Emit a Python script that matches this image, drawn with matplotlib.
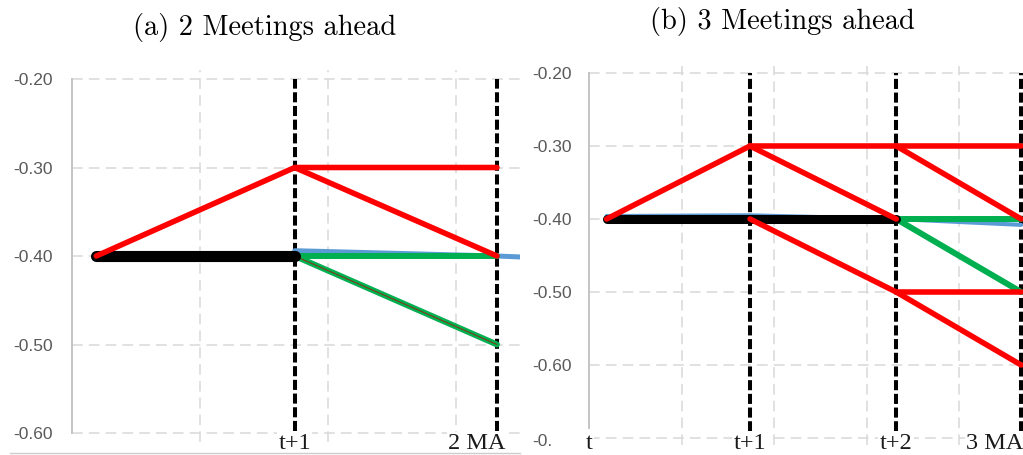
import numpy as np
import matplotlib
matplotlib.use('Agg')
import matplotlib.pyplot as plt
from matplotlib.lines import Line2D
from matplotlib.transforms import offset_copy

# horizontal position of each meeting (t, t+1, t+2, t+3) in gridline units
xMeeting = [0.19, 1.74, 3.32, 4.67]

# panel (a): 2 meetings ahead
judulA = '(a) 2 Meetings ahead'
labelA = ['t+1', '2 MA']
labelIdxA = [1, 2]
yTickA = [-0.60, -0.50, -0.40, -0.30, -0.20]
yLabelA = ['-0.60', '-0.50', '-0.40', '-0.30', '-0.20']
blackA = (0, [-0.40, -0.40])
blueA = (1, [-0.394, -0.400, -0.408])
greenA = [(1, [-0.40, -0.40]), (1, [-0.40, -0.50])]
redA = [(0, [-0.40, -0.30, -0.30]), (1, [-0.30, -0.40])]

# panel (b): 3 meetings ahead
judulB = '(b) 3 Meetings ahead'
labelB = ['t', 't+1', 't+2', '3 MA']
labelIdxB = [0, 1, 2, 3]
yTickB = [-0.70, -0.60, -0.50, -0.40, -0.30, -0.20]
yLabelB = ['-0.', '-0.60', '-0.50', '-0.40', '-0.30', '-0.20']
blackB = (0, [-0.40, -0.40, -0.40])
blueB = (0, [-0.396, -0.395, -0.400, -0.408])
greenB = [(2, [-0.40, -0.40]), (2, [-0.40, -0.50])]
redB = [(0, [-0.40, -0.30, -0.30, -0.30]), (1, [-0.30, -0.40]), (2, [-0.30, -0.40]),
        (1, [-0.40, -0.50, -0.50]), (2, [-0.50, -0.60])]

gridCol = '#d9d9d9'
red = '#ff0000'
green = '#00b050'
blue = '#5b9bd5'
tickFont = dict(family='Liberation Sans', fontsize=12.5, color='#595959')


def path(seg):
    start, vals = seg
    return xMeeting[start:start + len(vals)], vals


def garis(ax, seg, color, lw, z):
    xs, ys = path(seg)
    ax.plot(xs, ys, color=color, lw=lw, solid_capstyle='round',
            solid_joinstyle='round', zorder=z)


def siapkanSumbu(ax, xmax, ylim, yticks, ylabels, spineLow, pad):
    ax.set_xlim(0, xmax)
    ax.set_ylim(*ylim)
    ax.set_xticks(np.arange(1, int(xmax) + 1))
    ax.set_xticklabels([])
    ax.set_yticks(yticks)
    ax.set_yticklabels(ylabels, **tickFont)
    ax.tick_params(axis='both', length=0)
    ax.tick_params(axis='y', pad=pad)
    ax.grid(True, color=gridCol, lw=1.1, linestyle=(0, (7, 4)), zorder=0)
    ax.set_axisbelow(True)
    for s in ['top', 'right', 'bottom']:
        ax.spines[s].set_visible(False)
    ax.spines['left'].set_color('#c4c4c4')
    ax.spines['left'].set_linewidth(1.4)
    ax.spines['left'].set_bounds(spineLow, yticks[-1])
    ax.patch.set_alpha(0)


def labelBawah(ax, fig, labels, idx, yfrac, geser):
    for lab, i in zip(labels, idx):
        tr = offset_copy(ax.get_xaxis_transform(), fig=fig, x=geser.get(lab, 0), y=0, units='dots')
        ax.text(xMeeting[i], yfrac, lab, transform=tr, ha='center', va='center',
                family='Liberation Serif', fontsize=17.5, color='#1a1a1a', zorder=6, clip_on=False,
                bbox=dict(facecolor='white', edgecolor='none', pad=1.0))


fig = plt.figure(figsize=(10.23, 4.55), dpi=100)
fig.patch.set_facecolor('white')

# panel (a)
axA = fig.add_axes([0.07038, 0.0289, 0.43793, 0.8169])
siapkanSumbu(axA, 3.5, (-0.61, -0.19), yTickA, yLabelA, -0.60, 13.7)
for i in labelIdxA:
    axA.axvline(xMeeting[i], ymin=0.03, ymax=0.976, color='black', lw=2.9,
                linestyle=(0, (2.5, 0.9)), zorder=2)
garis(axA, blueA, blue, 3.6, 3)
for seg in greenA:
    garis(axA, seg, green, 4.3, 4)
xs, ys = path(greenA[1])
axA.plot(xs, ys, color='#c00000', lw=0.5, zorder=4.5)
garis(axA, blackA, 'black', 8, 5)
for seg in redA:
    garis(axA, seg, red, 4.0, 5.5)
labelBawah(axA, fig, labelA, labelIdxA, -0.0045, {'2 MA': -20})
fig.text(265 / 1023, 1 - 28 / 455, judulA, family='cmr10', fontsize=20.5,
         ha='center', va='center')

# panel (b)
axB = fig.add_axes([0.57576, 0.02132, 0.42424, 0.8343])
siapkanSumbu(axB, 4.69, (-0.71, -0.19), yTickB, [''] + yLabelB[1:], -0.686, 12.2)
# the bottom value label is cut short; draw it flush with the others
trB = offset_copy(axB.get_yaxis_transform(), fig=fig, x=-57, y=-4, units='dots')
axB.text(0, yTickB[0], yLabelB[0], transform=trB, ha='left', va='center',
         clip_on=False, **tickFont)
for i in labelIdxB[1:]:
    axB.axvline(xMeeting[i], ymin=0.0, ymax=0.98, color='black', lw=2.9,
                linestyle=(0, (2.5, 0.9)), zorder=2)
garis(axB, blueB, blue, 3.0, 3)
for seg in greenB:
    garis(axB, seg, green, 4.3, 4)
garis(axB, blackB, 'black', 6.5, 5)
for seg in redB:
    garis(axB, seg, red, 4.0, 5.5)
labelBawah(axB, fig, labelB, labelIdxB, 0.006, {'t': -17, '3 MA': -26})
fig.text(782 / 1023, 1 - 22 / 455, judulB, family='cmr10', fontsize=20.5,
         ha='center', va='center')

# thin border line under panel (a)
fig.add_artist(Line2D([10 / 1023, 520 / 1023], [1 - 453 / 455] * 2, color='#cccccc', lw=1))

plt.savefig('out.png', dpi=100, facecolor='white')
plt.close(fig)
